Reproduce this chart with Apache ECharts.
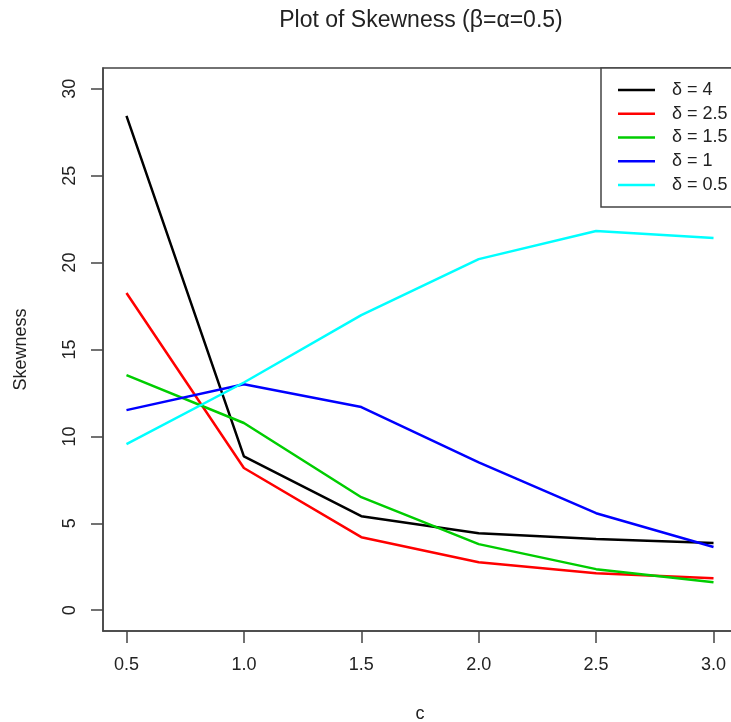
<!DOCTYPE html>
<html>
<head>
<meta charset="utf-8">
<script src="https://cdn.jsdelivr.net/npm/echarts@6/dist/echarts.min.js"></script>
<style>
html,body{margin:0;padding:0;background:#fff;}
#chart{width:731px;height:722px;}
</style>
</head>
<body>
<div id="chart"></div>
<script>
// ---- data ----
var cValues = [0.5, 1.0, 1.5, 2.0, 2.5, 3.0];
var seriesNames = ['δ = 4', 'δ = 2.5', 'δ = 1.5', 'δ = 1', 'δ = 0.5'];
var delta4  = [28.44, 8.85, 5.41, 4.43, 4.09, 3.86];
var delta25 = [18.25, 8.18, 4.20, 2.76, 2.13, 1.84];
var delta15 = [13.53, 10.77, 6.50, 3.80, 2.36, 1.61];
var delta1  = [11.51, 13.00, 11.69, 8.50, 5.58, 3.63];
var delta05 = [9.56, 13.10, 16.98, 20.20, 21.82, 21.42];
var xTicks = [0.5, 1.0, 1.5, 2.0, 2.5, 3.0];
var yTicks = [0, 5, 10, 15, 20, 25, 30];

var seriesValues = [delta4, delta25, delta15, delta1, delta05];
var colors = ['#000000', '#ff0000', '#00cd00', '#0000ff', '#00ffff'];
var FONT = 'Liberation Sans, Arial, sans-serif';
var AXC = '#444';

var chart = echarts.init(document.getElementById('chart'), null, {renderer: 'canvas'});
var series = seriesValues.map(function (vals, i) {
  return {
    name: seriesNames[i],
    type: 'line',
    symbol: 'none',
    data: cValues.map(function (c, j) { return [c, vals[j]]; }),
    lineStyle: {color: colors[i], width: 2.5},
    itemStyle: {color: colors[i]},
    z: 2 + i
  };
});

chart.setOption({
  animation: false,
  backgroundColor: '#fff',
  title: {
    text: 'Plot of Skewness (β=α=0.5)',
    left: 416,
    textAlign: 'center',
    top: 4,
    textStyle: {fontFamily: FONT, fontSize: 23, fontWeight: 'normal', color: '#222'}
  },
  legend: {
    orient: 'vertical',
    left: 601,
    top: 68,
    padding: [13, 12, 13, 17],
    itemGap: 5.75,
    itemWidth: 37,
    itemHeight: 2.5,
    icon: 'rect',
    borderColor: AXC,
    borderWidth: 1.5,
    backgroundColor: '#fff',
    textStyle: {fontFamily: FONT, fontSize: 18, lineHeight: 18, color: '#222', padding: [0, 0, 0, 12]},
    data: seriesNames
  },
  grid: {
    left: 103, top: 68, right: -6, bottom: 91,
    show: true, borderColor: AXC, borderWidth: 1.5, backgroundColor: '#fff',
    containLabel: false, outerBoundsMode: 'none'
  },
  xAxis: {
    type: 'value',
    min: 0.4, max: 3.1,
    name: 'c',
    nameLocation: 'middle',
    nameGap: 74,
    nameTextStyle: {fontFamily: FONT, fontSize: 18, color: '#222'},
    axisLine: {show: true, onZero: false, lineStyle: {color: AXC, width: 1.5}},
    axisTick: {show: true, length: 12, customValues: xTicks, lineStyle: {color: AXC, width: 1.5}},
    axisLabel: {
      customValues: xTicks, margin: 25,
      fontFamily: FONT, fontSize: 18, color: '#222',
      formatter: function (v) { return v.toFixed(1); }
    },
    splitLine: {show: false}
  },
  yAxis: {
    type: 'value',
    min: -1.2, max: 31.2,
    name: 'Skewness',
    nameLocation: 'middle',
    nameGap: 73,
    nameTextStyle: {fontFamily: FONT, fontSize: 18, color: '#222'},
    axisLine: {show: true, onZero: false, lineStyle: {color: AXC, width: 1.5}},
    axisTick: {show: true, length: 12, customValues: yTicks, lineStyle: {color: AXC, width: 1.5}},
    axisLabel: {
      customValues: yTicks, margin: 24, rotate: 90,
      fontFamily: FONT, fontSize: 18, color: '#222'
    },
    splitLine: {show: false}
  },
  series: series
});
</script>
</body>
</html>
